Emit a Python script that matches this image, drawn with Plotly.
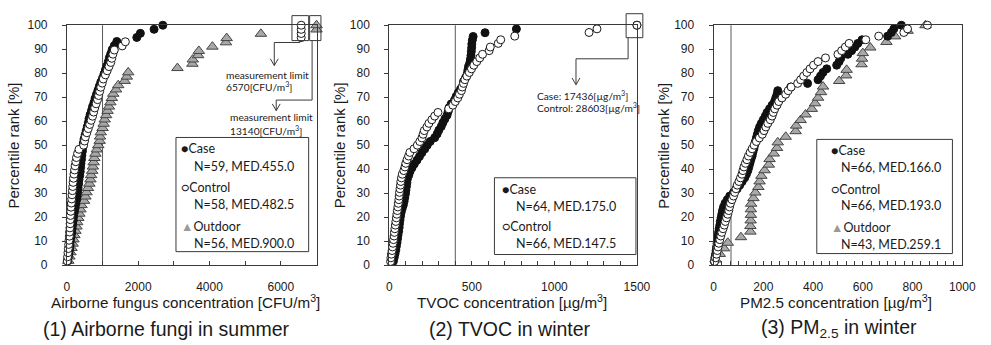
import plotly.graph_objects as go

W, H = 991, 345

# ---------------- data (sorted measured values) ----------------
# (1) Airborne fungi in summer [CFU/m3]
fungi_case = [20, 40, 60, 80, 90, 100, 120, 140, 150, 165, 180, 190, 210, 230, 250, 270, 290, 300,
              315, 330, 340, 360, 375, 385, 395, 410, 420, 435, 450, 460, 480, 510, 540, 570, 600,
              620, 650, 690, 720, 760, 790, 830, 870, 910, 950, 1000, 1040, 1080, 1120, 1160, 1190,
              1230, 1270, 1330, 1400, 1960, 2060, 2445, 2690]
fungi_control = [10, 20, 30, 40, 50, 60, 70, 75, 85, 90, 95, 100, 110, 115, 125, 135, 145, 155, 165,
                 175, 185, 200, 215, 230, 250, 270, 300, 340, 470, 495, 520, 560, 600, 640, 680, 720,
                 750, 780, 820, 860, 890, 920, 950, 990, 1020, 1080, 1130, 1180, 1230, 1260, 1290,
                 1330, 1550, 1640, 6570, 6570, 6570, 6570]
fungi_outdoor = [40, 70, 100, 130, 160, 185, 210, 240, 270, 290, 320, 350, 380, 410, 480, 520, 550,
                 590, 630, 660, 680, 710, 730, 750, 770, 800, 840, 880, 920, 930, 950, 1000, 1030,
                 1060, 1100, 1140, 1180, 1220, 1260, 1300, 1380, 1440, 1620, 1680, 1720, 3100, 3520,
                 3530, 3680, 3700, 4080, 4460, 4480, 5440, 13140, 13140]

# (2) TVOC in winter [ug/m3]
tvoc_case = [25, 30, 35, 40, 43, 47, 50, 53, 57, 60, 62, 65, 68, 72, 78, 85, 90, 94, 98, 101, 104,
             107, 110, 118, 126, 138, 152, 168, 183, 198, 215, 230, 248, 275, 290, 300, 315, 325,
             337, 350, 357, 362, 375, 395, 405, 418, 432, 446, 450, 462, 472, 476, 480, 488, 492,
             495, 497, 499, 500, 503, 508, 580, 770, 17436]
tvoc_control = [8, 10, 13, 17, 20, 23, 26, 29, 31, 34, 37, 40, 43, 46, 49, 52, 55, 58, 60, 62, 65,
                68, 70, 74, 79, 88, 95, 100, 108, 117, 125, 150, 170, 185, 198, 205, 212, 228, 240,
                258, 275, 295, 360, 385, 400, 415, 425, 437, 442, 450, 458, 470, 485, 498, 512, 530,
                548, 565, 605, 612, 660, 675, 760, 1210, 1258, 28603]

# (3) PM2.5 in winter [ug/m3]
pm_case = [3, 5, 8, 10, 12, 14, 16, 18, 20, 22, 25, 27, 30, 33, 36, 40, 46, 55, 65, 80, 95, 105,
           115, 125, 132, 138, 142, 146, 150, 155, 158, 162, 165, 168, 172, 176, 180, 185, 192, 200,
           208, 215, 225, 235, 245, 250, 255, 258, 310, 378, 420, 430, 440, 455, 495, 505, 512,
           540, 555, 568, 580, 597, 700, 715, 725, 755]
pm_control = [4, 8, 12, 15, 18, 21, 25, 29, 33, 38, 43, 47, 52, 57, 61, 64, 68, 74, 80, 85, 90, 95,
              102, 108, 114, 118, 122, 128, 134, 140, 147, 155, 163, 172, 184, 196, 203, 210, 218,
              228, 235, 240, 246, 255, 262, 275, 290, 300, 312, 338, 350, 362, 375, 388, 402, 420,
              450, 500, 515, 530, 545, 612, 664, 765, 780, 860]
pm_outdoor = [8, 25, 42, 57, 110, 148, 148, 149, 150, 150, 151, 160, 168, 180, 185, 192, 205, 222,
              225, 242, 255, 258, 290, 330, 332, 350, 370, 395, 408, 420, 432, 440, 505, 533, 535,
              595, 597, 600, 630, 695, 730, 780, 852]

# axis maxima and guideline values
x_max = [7000, 1500, 1000]
guideline = [1000, 400, 70]

x_titles = ["Airborne fungus concentration [CFU/m<sup>3</sup>]",
            "TVOC concentration [µg/m<sup>3</sup>]",
            "PM2.5 concentration [µg/m<sup>3</sup>]"]
captions = ["(1) Airborne fungi in summer", "(2) TVOC in winter",
            "(3) PM<sub>2.5</sub> in winter"]
legend_lines = [
    ["●Case", "N=59, MED.455.0", "○Control", "N=58, MED.482.5",
     "<span style='color:#9a9a9a'>▲</span>Outdoor", "N=56, MED.900.0"],
    ["●Case", "N=64, MED.175.0", "○Control", "N=66, MED.147.5"],
    ["●Case", "N=66, MED.166.0", "○Control", "N=66, MED.193.0",
     "<span style='color:#9a9a9a'>▲</span>Outdoor", "N=43, MED.259.1"],
]

# ---------------- layout geometry (pixels) ----------------
def PX(x):
    return x / W

def PY(y):
    return 1 - y / H

plot_x = [(65, 319), (393, 645), (723, 976)]
plot_top, plot_bot = 19, 269
AX = "#3a3a3a"
TXT = "#1a1a1a"


def rank(vals):
    s = sorted(vals)
    n = len(s)
    return s, [100.0 * (i + 1) / n for i in range(n)]


fig = go.Figure()

series = [
    [("Outdoor", fungi_outdoor), ("Case", fungi_case), ("Control", fungi_control)],
    [("Case", tvoc_case), ("Control", tvoc_control)],
    [("Outdoor", pm_outdoor), ("Case", pm_case), ("Control", pm_control)],
]
styles = {
    "Case": dict(symbol="circle", size=8, color="#111111", line=dict(color="#111111", width=1)),
    "Control": dict(symbol="circle", size=8, color="white", line=dict(color="#1a1a1a", width=1)),
    "Outdoor": dict(symbol="triangle-up", size=10, color="#a8a8a8", line=dict(color="#444444", width=1)),
}

for p, group in enumerate(series):
    xa = "x" if p == 0 else f"x{p+1}"
    ya = "y" if p == 0 else f"y{p+1}"
    for name, vals in group:
        xs, ys = rank(vals)
        xs_disp = [min(v, x_max[p]) for v in xs]  # values beyond axis drawn at its edge
        fig.add_trace(go.Scatter(x=xs_disp, y=ys, mode="markers", name=name, xaxis=xa, yaxis=ya,
                                 marker=styles[name], cliponaxis=False, showlegend=False,
                                 hoverinfo="x+y"))

layout = dict(width=W, height=H, margin=dict(l=0, r=0, t=0, b=0), autosize=False,
              paper_bgcolor="white", plot_bgcolor="white", showlegend=False)

minor_dt = [1000, 100, 200 / 6]
major_dt = [2000, 500, 200]
for p in range(3):
    sfx = "" if p == 0 else str(p + 1)
    x0, x1 = plot_x[p]
    layout["xaxis" + sfx] = dict(
        domain=[PX(x0), PX(x1)], range=[0, x_max[p]], anchor="y" + sfx,
        showline=True, linecolor=AX, linewidth=1, mirror=True, showgrid=False, zeroline=False,
        tick0=0, dtick=major_dt[p], ticks="inside", ticklen=4, tickcolor=AX,
        minor=dict(dtick=minor_dt[p], tick0=0, ticks="inside", ticklen=4, tickcolor=AX, showgrid=False),
        tickfont=dict(family="Liberation Sans", size=12, color=TXT), ticklabelstandoff=11)
    layout["yaxis" + sfx] = dict(
        domain=[PY(plot_bot), PY(plot_top)], range=[0, 100], anchor="x" + sfx,
        showline=True, linecolor=AX, linewidth=1, mirror=True, showgrid=False, zeroline=False,
        tick0=0, dtick=10, ticks="outside", ticklen=4, tickcolor=AX,
        tickfont=dict(family="Liberation Sans", size=12, color=TXT), ticklabelstandoff=12)

fig.update_layout(**layout)

shapes = []
ann = []

# guideline vertical lines
for p in range(3):
    sfx = "" if p == 0 else str(p + 1)
    shapes.append(dict(type="line", xref="x" + sfx, yref="y" + sfx + " domain" if sfx else "y domain",
                       x0=guideline[p], x1=guideline[p], y0=0, y1=1,
                       line=dict(color="#5a5a5a", width=1), layer="below"))


def rect(x0, y0, x1, y1):
    shapes.append(dict(type="rect", xref="paper", yref="paper", x0=PX(x0), x1=PX(x1),
                       y0=PY(y1), y1=PY(y0), line=dict(color=AX, width=1), fillcolor="rgba(0,0,0,0)",
                       layer="above"))


def poly(pts):
    d = "M " + " L ".join(f"{PX(x):.5f},{PY(y):.5f}" for x, y in pts)
    shapes.append(dict(type="path", xref="paper", yref="paper", path=d,
                       line=dict(color=AX, width=1), layer="above"))


def arrow(x, y):
    poly([(x - 4, y - 7), (x, y), (x + 4, y - 7)])


def text(x, y, s, size, family="Lato", xanchor="left", angle=0):
    ann.append(dict(x=PX(x), y=PY(y), xref="paper", yref="paper", text=s, showarrow=False,
                    xanchor=xanchor, yanchor="middle", textangle=angle,
                    font=dict(family=family, size=size, color=TXT)))


# callouts panel 1
rect(294, 9, 311, 35)
poly([(302, 35), (302, 37), (276, 37), (276, 61)])
arrow(276, 61)
rect(312, 9, 323.5, 35)
poly([(314.5, 35), (314.5, 97), (278, 97), (278, 108)])
arrow(278, 108)
text(224.5, 70.5, "measurement limit", 10.2)
text(224.5, 82.5, "6570[CFU/m<sup>3</sup>]", 10.2)
text(228.5, 114.5, "measurement limit", 10.2)
text(228.5, 128.5, "13140[CFU/m<sup>3</sup>]", 10.2)

# callout panel 2
rect(634, 7, 651, 32)
poly([(636, 32), (636, 54), (583, 54), (583, 81)])
arrow(583, 81)
text(541, 92.5, "Case: 17436[µg/m<sup>3</sup>]", 10.2)
text(541, 104.5, "Control: 28603[µg/m<sup>3</sup>]", 10.2)

# legend text boxes
leg_box = [(176, 136, 311, 255), (500, 178, 644, 258), (828, 138, 966, 257)]
leg_y = [[148, 166, 188, 206, 229, 247], [190, 208, 229, 247], [150, 167, 190, 207, 230, 248]]
leg_x = [(179, 192.5), (506, 520), (840, 850.5)]
for b in leg_box:
    shapes.append(dict(type="rect", xref="paper", yref="paper", x0=PX(b[0]), x1=PX(b[2]),
                       y0=PY(b[3]), y1=PY(b[1]), line=dict(width=0), fillcolor="white", layer="above"))
for p in range(3):
    rect(*leg_box[p])
    for i, s in enumerate(legend_lines[p]):
        xx = leg_x[p][0] if i % 2 == 0 else leg_x[p][1]
        text(xx, leg_y[p][i], s, 12.5)

# axis titles and captions
x_title_cx = [186, 518, 847.5]
cap_cx = [166.5, 515.5, 851]
y_title_x = [10.5, 342, 672]
for p in range(3):
    text(y_title_x[p], 144, "Percentile rank [%]", 15, family="Liberation Sans", xanchor="center", angle=-90)
    text(x_title_cx[p], 307, x_titles[p], 15.2, family="Liberation Sans", xanchor="center")
    text(cap_cx[p], 335.5, captions[p], 19.5, family="Liberation Sans", xanchor="center")

fig.update_layout(shapes=shapes, annotations=ann)
fig.write_html("out.html")
